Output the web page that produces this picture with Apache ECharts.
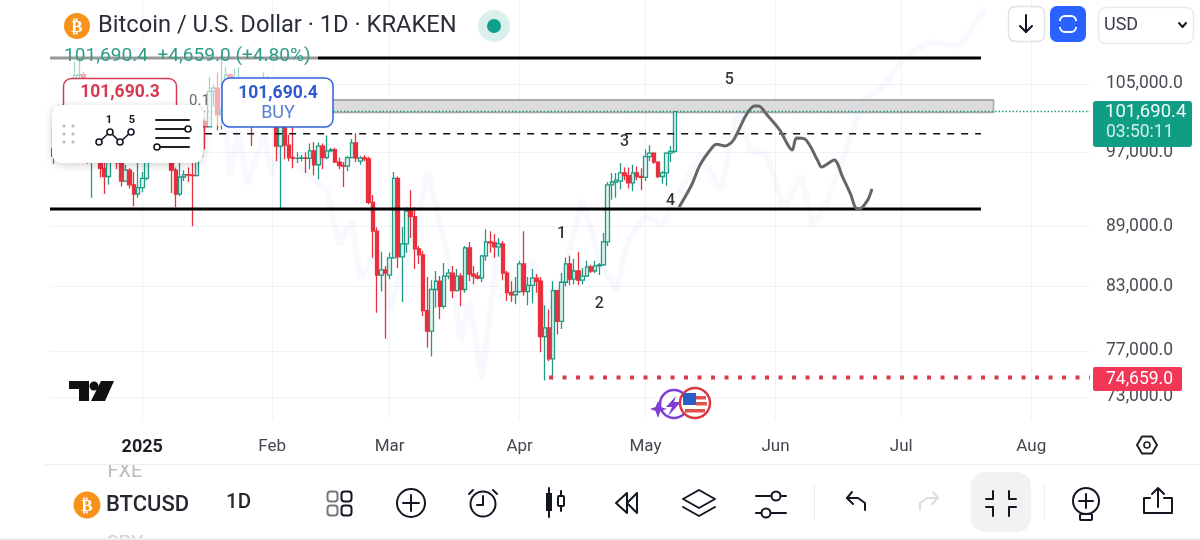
<!DOCTYPE html>
<html>
<head>
<meta charset="utf-8">
<title>BTCUSD 1D</title>
<script src="https://cdn.jsdelivr.net/npm/echarts@6/dist/echarts.min.js"></script>
<style>
html, body { margin: 0; padding: 0; background: #fff; }
#main { width: 1200px; height: 540px; }
</style>
</head>
<body>
<div id="main"></div>
<script>
// daily candles, 2024-12-10 .. 2025-05-08: [open, close, low, high]
var ohlc = [
    [97400,96600,94200,98300],[96600,101150,95700,101900],[101150,100040,99200,102500],[100040,101450,99300,102600],
    [101450,101370,100700,102650],[101370,104450,101200,105000],[104450,106050,103300,107800],[106050,106150,105300,108300],
    [106150,100200,99900,106500],[100200,97400,95700,102800],[97400,97800,92000,98100],[97800,97250,96700,99500],
    [97250,95200,94200,97400],[95200,94300,92400,96500],[94300,98700,93400,99400],[98700,99400,97600,99900],
    [99400,95800,95100,99900],[95800,93800,93200,97300],[93800,95000,93700,95600],[95000,93400,93000,95200],
    [93400,92400,91100,94800],[92400,93100,92000,96000],
    // Jan
    [93100,94100,92600,94800],[94100,96500,93900,97700],[96500,98100,96300,98900],[98100,98200,97500,98700],
    [98200,98300,97300,98800],[98300,102200,97900,102500],[102200,96900,96100,102700],[96900,95000,92500,97200],
    [95000,92400,91000,95300],[92400,94250,92200,95800],[94250,94500,93800,95000],[94500,94450,93700,95300],
    [94450,94400,89000,95900],[94400,96500,94300,97300],[96500,100500,96500,100700],[100500,99900,97300,100800],
    [99900,104100,99900,105900],[104100,104500,102300,104900],[104500,101300,99500,106400],[101300,102000,99600,109300],
    [102000,106100,100100,107100],[106100,103600,103300,106300],[103600,103900,101300,106900],[103900,104700,103000,107100],
    [104700,104700,104100,105200],[104700,102600,102500,105500],[102600,102000,97700,103200],[102000,101300,100300,103800],
    [101300,103700,101300,104800],[103700,104700,103300,106400],[104700,102400,101500,106000],
    // Feb
    [102400,100600,100000,102700],[100600,97700,96000,101500],[97700,101400,90800,102500],[101400,97800,96200,101700],
    [97800,96400,96000,99000],[96400,96300,95200,99900],[96300,96300,95800,97000],[96300,96350,96000,96700],
    [96350,96300,94700,97000],[96300,97150,95100,98000],[97150,95600,94450,98150],[95600,97700,94000,98100],
    [97700,96400,95100,98000],[96400,97150,96200,98900],[97150,97300,97000,97500],[97300,95900,95800,97500],
    [95900,95500,95100,96400],[95500,95450,93150,95900],[95450,96400,94900,96600],[96400,98050,96300,98500],
    [98050,96350,95900,99150],[96000,96350,95600,96570],[96350,96250,96000,96700],[96250,91500,91300,96500],
    [91500,88500,85800,92300],[88500,84100,80500,88900],[84100,84600,82500,86400],[84600,84300,78100,85000],
    // Mar
    [84100,85800,83700,86300],[85800,94100,85700,94800],[94100,85900,84800,94300],[85900,87200,81500,88900],
    [87200,90600,86300,91000],[90600,90000,87800,92800],[90000,86700,84700,91000],[86700,86100,85200,87000],
    [86100,80700,80200,86500],[80700,78800,77300,83900],[78800,82700,76500,83600],[82700,83500,81000,84500],
    [83500,81100,79900,84000],[81100,84000,80900,85300],[84000,84300,83700,84700],[84300,82600,81900,85000],
    [82600,84000,82500,84700],[84000,82700,81100,84300],[82700,86800,82400,87000],[86800,84200,83500,87400],
    [84200,84000,83200,85000],[84000,83800,83700,84400],[83800,86000,83400,86100],[86000,87400,85500,88700],
    [87400,87300,86300,88500],[87300,86900,85800,88200],[86900,87200,85900,87800],[87200,84300,83600,87500],
    [84300,82400,81600,84500],[82400,82200,81500,83500],[82200,82500,81300,83900],
    // Apr
    [82500,85200,82400,85500],[85200,82500,82100,88500],[82500,83100,81200,83900],[83100,83800,81400,84700],
    [83800,83500,82400,84200],[83500,78300,76900,83900],[78300,79100,74400,81200],[79100,76300,76100,80800],
    [76300,82600,74500,83500],[82600,79700,78500,82700],[79700,83400,79000,84300],[83400,85200,83000,85800],
    [85200,83700,83100,86000],[83700,84500,83200,85700],[84500,83600,83100,86400],[83600,84000,83200,84800],
    [84000,84900,83900,85500],[84900,84500,84300,85100],[84500,85000,84300,85500],[85000,85100,84100,85300],
    [85100,87400,85000,88300],[87400,93400,87000,93700],[93400,93700,91800,94700],[93700,93900,92000,94700],
    [93800,94700,92900,95800],[94700,94400,93900,95300],[94400,93600,93000,95300],[93600,94700,92700,95600],
    [94700,94300,93900,95400],[94300,94200,92800,95200],
    // May
    [94200,96500,93800,97300],[96500,96900,96000,97800],[96900,95900,95700,97000],[95900,94300,94100,96000],
    [94300,94700,93500,94900],[94700,96900,93300,97000],[96900,97100,95900,97700],[97100,101690.4,96900,101690.4]
];

var priceTicks = [73000, 77000, 83000, 89000, 97000, 105000];
var monthNames = ['2025', 'Feb', 'Mar', 'Apr', 'May', 'Jun', 'Jul', 'Aug'];

// drawn levels
var topLevel = 108220;
var supportLevel = 90800;
var dashedLevel = 99100;
var boxLow = 101580;
var boxHigh = 103060;
var lastPrice = 101690.4;
var lowPrice = 74659;

// hand drawn projection: [day index, price]
var projection = [
    [150,91000],[153,93380],[155,95570],[158,97590],[159,97900],[161,97700],[163,98390],[166,101290],
    [168,102350],[169,102350],[171,101290],[174,99540],[177,97250],[178,98620],[180,98500],[183,96130],
    [184,95350],[187,96130],[189,94250],[191,92300],[192,91000],[193,90810],[195,91770],[196,92950]
];

// faint ghost pattern behind the candles: [day index, price]
var ghost = [
    [42,100120],[43,94470],[45,99540],[47,93380],[51,98980],[53,94470],[55,98390],[60,95020],[66,92840],
    [69,87100],[72,89660],[74,83620],[78,86590],[81,80750],[84,84600],[87,87600],[90,95020],[92,91230],
    [95,85590],[98,77990],[100,81700],[103,74450],[105,80750],[107,87600],[111,81700],[115,85590],[118,80300],
    [122,83620],[127,91770],[131,85590],[135,82650],[138,87600],[142,90180],[146,89140],[149,91770],[155,96690],
    [160,92840],[164,101880],[167,97250],[171,96690],[175,90700],[179,94470],[182,89140],[185,91230],[189,96130],
    [194,103070],[199,104890],[204,108560],[210,110250],[217,109700],[223,114700]
];

// wave numbers: [day index, price, text]
var waveLabels = [
    [122,88420,'1'],[131,81510,'2'],[137,98390,'3'],[148,91870,'4'],[162,105730,'5']
];

var LAST_DAY = 248;   // right edge of plot (2025-08-14)
var LINE_END = 222;   // drawn lines stop here
var BOX_END = 225;

// one category per day
var categories = [];
var day = new Date(Date.UTC(2024, 11, 10));
for (var i = 0; i <= LAST_DAY; i++) {
    categories.push(day.toISOString().slice(0, 10));
    day = new Date(day.getTime() + 86400000);
}

function isMonthStart(index, value) {
    return value.slice(8) === '01' && value >= '2025-01-01';
}

// ---- small helpers for the app chrome around the chart ----
var Z = 50;
function T(text, x, y, font, fill, align) {
    return { type: 'text', z: Z, style: { text: text, x: x, y: y + 1.5, font: font, fill: fill, textAlign: align || 'left', textVerticalAlign: 'middle' } };
}
function R(x, y, w, h, fill, stroke, r, lw, extra) {
    return { type: 'rect', z: Z, shape: { x: x, y: y, width: w, height: h, r: r || 0 },
        style: Object.assign({ fill: fill, stroke: stroke || null, lineWidth: lw || 1 }, extra || {}) };
}
function C(x, y, r, fill, stroke, lw) {
    return { type: 'circle', z: Z, shape: { cx: x, cy: y, r: r }, style: { fill: fill, stroke: stroke || null, lineWidth: lw || 2 } };
}
function P(points, stroke, lw) {
    return { type: 'polyline', z: Z, shape: { points: points }, style: { stroke: stroke || '#131722', lineWidth: lw || 2, fill: null, lineCap: 'round', lineJoin: 'round' } };
}
function G(points, fill, stroke) {
    return { type: 'polygon', z: Z, shape: { points: points }, style: { fill: fill, stroke: stroke || null, lineWidth: 2, lineJoin: 'round' } };
}

var ink = '#131722';
var chrome = [
    // keep the first candle inside the left edge
    R(0, 100, 51, 100, '#fff'),
    // wash over the chart behind the legend
    R(50, 44, 268, 82, 'rgba(255,255,255,0.6)'),

    // header
    C(77, 26, 13, '#f7931a'),
    T('₿', 77, 26, 'bold 17px "DejaVu Sans"', '#fff', 'center'),
    T('Bitcoin / U.S. Dollar · 1D · KRAKEN', 98, 25, '23.7px Roboto', '#2a2e39'),
    C(494, 26, 16, '#d9f0ec'),
    C(494, 26, 7, '#12a08a'),
    T('101,690.4  +4,659.0 (+4.80%)', 64, 55, '19.1px Roboto', '#2e9c86'),

    // top right buttons
    R(1008.5, 6.5, 36, 35, '#fff', '#dfe2e8', 7, 1.5),
    P([[1026, 15], [1026, 32]], ink, 2),
    P([[1020, 26], [1026, 32], [1032, 26]], ink, 2),
    R(1050, 6, 36, 36, '#2962ff', null, 7),
    R(1060, 16, 16, 16, null, '#fff', 5, 2),
    R(1056, 21, 24, 6, '#2962ff'),
    R(1098.5, 7.5, 95, 36, '#fff', '#e8eaee', 7, 1.5),
    T('USD', 1104, 24, '18px Roboto', '#3a3e48'),
    P([[1179, 23], [1182.5, 27], [1186, 23]], ink, 2),

    // order labels
    R(63.5, 78.5, 113, 40, '#fff', '#d8394f', 8, 1.5),
    T('101,690.3', 120, 91, 'bold 17.5px Roboto', '#d8394f', 'center'),
    T('0.1', 189, 100, '15px Roboto', '#6a6d78'),
    R(222, 78, 111, 49, '#fff', '#2f62d8', 8, 1.5),
    T('101,690.4', 278, 92, 'bold 17.5px Roboto', '#2f5ad0', 'center'),
    T('BUY', 278, 112, '18px Roboto', '#5b7fd6', 'center'),

    // floating drawing widget
    { type: 'rect', z: Z, shape: { x: 52, y: 105, width: 151, height: 58, r: 9 },
      style: { fill: '#fff', shadowBlur: 8, shadowColor: 'rgba(0,0,0,0.18)', shadowOffsetY: 2 } },
    C(64, 126, 1.6, '#bbb'), C(73, 126, 1.6, '#bbb'), C(64, 134, 1.6, '#bbb'), C(73, 134, 1.6, '#bbb'),
    C(64, 142, 1.6, '#bbb'), C(73, 142, 1.6, '#bbb'),
    P([[99, 142], [110, 132], [120, 142], [131, 132]], ink, 1.6),
    C(99, 142, 3, '#fff', ink, 1.6), C(110, 132, 3, '#fff', ink, 1.6), C(120, 142, 3, '#fff', ink, 1.6), C(131, 132, 3, '#fff', ink, 1.6),
    T('1', 109, 119, 'bold 11px Roboto', ink, 'center'),
    T('5', 132, 119, 'bold 11px Roboto', ink, 'center'),
    P([[156, 120], [189, 120]], '#222', 2),
    P([[156, 129], [189, 129]], '#222', 2),
    P([[156, 138], [189, 138]], '#222', 2),
    P([[156, 147], [189, 147]], '#222', 2),
    C(188, 129, 3, '#fff', ink, 1.6),
    C(157, 147, 3, '#fff', ink, 1.6),

    // price tags
    R(1093, 101, 99, 46, '#0f9d84', null, 3),
    T('101,690.4', 1105, 111, '18.5px Roboto', '#f2fbf9'),
    T('03:50:11', 1106, 131, '17.5px Roboto', '#d2efe9'),
    R(1093, 367, 89, 24, '#f23655', null, 2),
    T('74,659.0', 1106, 378, '17.5px Roboto', '#fff'),

    // tradingview mark
    G([[69, 381], [89, 381], [89, 401], [79, 401], [79, 389], [69, 389]], '#111'),
    C(94, 386, 4.5, '#111'),
    G([[101, 381], [114, 381], [105, 401], [91, 401]], '#111'),

    // event badges
    C(674, 404, 14, null, '#7d3fd6', 2.5),
    G([[676, 396], [666, 407], [672, 407], [668, 416], [681, 402], [674, 402]], '#7d3fd6'),
    G([[658, 401], [660.5, 407], [667, 409], [660.5, 411], [658, 418], [655.5, 411], [650, 409], [655.5, 407]], '#7d3fd6'),
    C(695, 403, 15, '#fff', '#d83a3f', 2.5),
    R(683, 393, 13, 12, '#2760c8'),
    R(696, 396, 10, 3.5, '#e0504c'),
    R(696, 402, 11, 3.5, '#e0504c'),
    R(685, 409, 20, 3.5, '#e0504c'),

    // chart settings hexagon
    G([[1137, 445], [1142, 436.5], [1152, 436.5], [1157, 445], [1152, 453.5], [1142, 453.5]], null, '#222'),
    C(1147, 445, 3, null, '#222', 1.6),

    // divider and bottom toolbar (list rows clipped behind it)
    R(45, 471, 1155, 68, '#fff'),
    T('FXE', 125, 470, '20px Roboto', '#bdbdbd', 'center'),
    T('SPY', 125, 543, '20px Roboto', '#d0d0d0', 'center'),
    R(100, 452, 50, 12, '#fff'),
    R(45, 464, 1155, 1, '#eeeeee'),
    R(0, 538, 1200, 2, '#eeeeee'),

    C(87, 505, 13.5, '#f7931a'),
    T('₿', 87, 505, 'bold 17px "DejaVu Sans"', '#fff', 'center'),
    T('BTCUSD', 106, 504, '500 22px Roboto', '#25282f'),
    T('1D', 226, 501, '500 20.5px Roboto', '#25282f'),

    // layouts
    R(327.5, 491.5, 10, 10, null, '#777', 3, 2), R(341.5, 491.5, 10, 10, null, ink, 3, 2),
    R(327.5, 505.5, 10, 10, null, '#777', 3, 2), R(341.5, 505.5, 10, 10, null, ink, 3, 2),
    // add
    C(411, 503, 14, null, ink, 2),
    P([[411, 495], [411, 511]], ink, 2), P([[403, 503], [419, 503]], ink, 2),
    // alert
    C(483, 504, 12.5, null, ink, 2),
    P([[483, 496], [483, 505], [477, 505]], ink, 2),
    P([[469, 494], [473, 490]], ink, 2), P([[493, 490], [497, 494]], ink, 2),
    // candles
    P([[549, 488], [549, 517]], ink, 2), R(546, 493, 6, 18, ink),
    P([[561, 491], [561, 511]], ink, 2), R(558, 496, 6, 10, '#fff', ink, 1, 2),
    // replay
    G([[616, 503], [627, 493], [627, 513]], null, ink), G([[627, 503], [637, 493], [637, 513]], null, ink),
    // layers
    G([[699, 490], [715, 499], [699, 508], [683, 499]], null, ink),
    P([[683, 507], [699, 516], [715, 507]], ink, 2),
    // settings
    P([[756, 496], [786, 496]], ink, 2), C(776, 496, 4.5, '#fff', ink, 2),
    P([[756, 513], [786, 513]], ink, 2), C(766, 513, 4.5, '#fff', ink, 2),

    R(814, 485, 1, 35, '#eee'),
    // undo
    P([[852, 492], [847, 498], [853, 504]], ink, 2), P([[847, 498], [858, 498], [865, 503], [865, 510]], ink, 2),
    // redo
    P([[933, 492], [938, 498], [932, 504]], '#ddd', 2), P([[938, 498], [927, 498], [920, 503], [920, 510]], '#ddd', 2),
    // exit fullscreen
    R(971, 472, 60, 60, '#f2f2f2', null, 14),
    P([[993, 491], [993, 499], [986, 499]], ink, 2), P([[1009, 491], [1009, 499], [1016, 499]], ink, 2),
    P([[986, 507], [993, 507], [993, 516]], ink, 2), P([[1016, 507], [1009, 507], [1009, 516]], ink, 2),

    R(1044, 485, 1, 35, '#eee'),
    // idea bulb
    C(1086, 501, 13, null, ink, 2),
    P([[1086, 494], [1086, 508]], ink, 2), P([[1079, 501], [1093, 501]], ink, 2),
    R(1080, 514, 12, 6, '#fff', ink, 1, 2),
    // share
    P([[1150, 498], [1144, 498], [1144, 513], [1172, 513], [1172, 498], [1164, 498]], ink, 2),
    P([[1158, 507], [1158, 489]], ink, 2), P([[1152, 494], [1158, 488], [1164, 494]], ink, 2)
];

// constant price line between two day indexes
function level(name, price, from, to, color, width, lineType) {
    return {
        name: name, type: 'line', symbol: 'none', silent: true, z: 5,
        data: [[from, price], [to, price]],
        lineStyle: { color: color, width: width, type: lineType || 'solid' }
    };
}

var chart = echarts.init(document.getElementById('main'));
chart.setOption({
    animation: false,
    backgroundColor: '#fff',
    textStyle: { fontFamily: 'Roboto' },
    grid: { left: 50, right: 110, top: 0, bottom: 120 },
    graphic: { elements: chrome },
    xAxis: {
        type: 'category',
        data: categories,
        boundaryGap: false,
        axisLine: { show: false },
        axisTick: { show: false },
        splitLine: { show: true, interval: isMonthStart, lineStyle: { color: '#f0f2f7', width: 1 } },
        axisLabel: {
            interval: isMonthStart,
            margin: 18,
            fontSize: 17,
            color: '#43464e',
            hideOverlap: false,
            formatter: function (value) {
                var month = parseInt(value.slice(5, 7), 10);
                if (month === 1) return '{year|' + monthNames[0] + '}';
                return monthNames[month - 1];
            },
            rich: { year: { fontSize: 18, fontWeight: 'bold', color: '#1c1f26' } }
        }
    },
    yAxis: {
        type: 'log',
        logBase: 10,
        position: 'right',
        min: 71070,
        max: 115760,
        axisLine: { show: false },
        axisTick: { show: false, customValues: priceTicks },
        splitLine: { show: true, lineStyle: { color: '#f0f2f7', width: 1 } },
        axisLabel: {
            customValues: priceTicks,
            margin: 16,
            padding: [8, 0, 0, 0],
            fontSize: 17.5,
            color: '#4a4d55',
            formatter: function (value) {
                return Number(value).toLocaleString('en-US', { minimumFractionDigits: 1, maximumFractionDigits: 1 });
            }
        }
    },
    series: [
        {
            name: 'ghost', type: 'line', symbol: 'none', silent: true, z: 1,
            data: ghost,
            lineStyle: { color: 'rgba(190,212,245,0.13)', width: 6 }
        },
        {
            name: 'BTCUSD', type: 'candlestick', z: 3,
            data: ohlc,
            barWidth: 4,
            itemStyle: {
                color: '#e3f4f0',
                color0: '#e8303f',
                borderColor: '#1f9a84',
                borderColor0: '#e8303f',
                borderWidth: 1.3
            }
        },
        {
            name: 'box', type: 'line', symbol: 'none', silent: true, z: 2,
            data: [[44, boxHigh], [BOX_END, boxHigh]],
            lineStyle: { color: '#a8a8a8', width: 1.5 },
            markArea: {
                silent: true,
                itemStyle: { color: '#dcdcdc', borderColor: '#a8a8a8', borderWidth: 1.5 },
                data: [[{ xAxis: 44, yAxis: boxHigh }, { xAxis: BOX_END, yAxis: boxLow }]]
            }
        },
        level('last', lastPrice, 0, LAST_DAY, '#1f9a84', 1.5, [1.5, 2]),
        level('top', topLevel, 0, LINE_END, '#000', 3),
        level('support', supportLevel, 0, LINE_END, '#000', 3),
        level('dashed', dashedLevel, 37, LINE_END, '#111', 1.5, [7, 7]),
        level('low', lowPrice, 119, LAST_DAY, '#dc3a4c', 4, [4, 9.5]),
        {
            name: 'projection', type: 'line', symbol: 'none', silent: true, z: 6,
            smooth: 0.3,
            data: projection,
            lineStyle: { color: '#666', width: 3 }
        },
        {
            name: 'waves', type: 'scatter', silent: true, z: 7, symbolSize: 0,
            data: waveLabels,
            label: {
                show: true, position: 'inside', offset: [0, 2], fontSize: 16, fontWeight: 500, color: '#000',
                formatter: function (p) { return p.value[2]; }
            }
        }
    ]
});
</script>
</body>
</html>
